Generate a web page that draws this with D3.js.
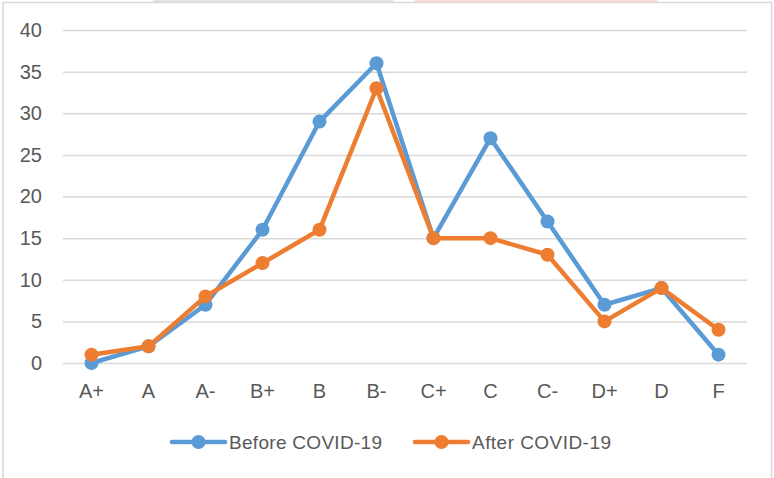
<!DOCTYPE html>
<html>
<head>
<meta charset="utf-8">
<script src="https://cdn.jsdelivr.net/npm/d3@7"></script>
<style>
  body { margin: 0; background: #fff; }
  svg { display: block; font-family: "Liberation Sans", Arial, sans-serif; }
</style>
</head>
<body>
<div id="chart"></div>
<script>
/* Data */
const GRADES = ['A+', 'A', 'A-', 'B+', 'B', 'B-', 'C+', 'C', 'C-', 'D+', 'D', 'F'];
const BEFORE = [0, 2, 7, 16, 29, 36, 15, 27, 17, 7, 9, 1];
const AFTER = [1, 2, 8, 12, 16, 33, 15, 15, 13, 5, 9, 4];
const Y_TICKS = [0, 5, 10, 15, 20, 25, 30, 35, 40];
const SERIES = [
    { name: 'Before COVID-19', values: BEFORE, color: '#5B9BD5' },
    { name: 'After COVID-19', values: AFTER, color: '#ED7D31' }
];

/* Dimensions */
const WIDTH = 774;
const HEIGHT = 478;
const PLOT = { left: 63, right: 747, top: 30, bottom: 363 };

const svg = d3.select('#chart').append('svg')
    .attr('width', WIDTH)
    .attr('height', HEIGHT);

// leftover header cells above the chart frame
svg.append('rect').attr('x', 153).attr('y', 0).attr('width', 240).attr('height', 3).attr('fill', '#e3e3e3');
svg.append('rect').attr('x', 415).attr('y', 0).attr('width', 242).attr('height', 3).attr('fill', '#fadada');

// chart frame
svg.append('rect')
    .attr('x', 3).attr('y', 2.5)
    .attr('width', 768.5).attr('height', 490)
    .attr('fill', '#fff')
    .attr('stroke', '#d9d9d9')
    .attr('stroke-width', 1.5);

const x = d3.scaleBand().domain(GRADES).range([PLOT.left, PLOT.right]);
const y = d3.scaleLinear().domain([0, 40]).range([PLOT.bottom, PLOT.top]);

// gridlines + y labels
const yAxis = svg.append('g')
    .attr('transform', `translate(${PLOT.left},0)`)
    .call(d3.axisLeft(y).tickValues(Y_TICKS).tickSize(-(PLOT.right - PLOT.left)).tickPadding(21));
yAxis.select('.domain').remove();
yAxis.selectAll('line').attr('stroke', '#d9d9d9').attr('stroke-width', 1.5);
yAxis.selectAll('text')
    .attr('fill', '#595959')
    .style('font-size', '20px');

// x labels
const xAxis = svg.append('g')
    .attr('transform', `translate(0,${PLOT.bottom})`)
    .call(d3.axisBottom(x).tickSize(0).tickPadding(21));
xAxis.select('.domain').remove();
xAxis.selectAll('text')
    .attr('fill', '#595959')
    .style('font-size', '20px');

const cx = (d, i) => x(GRADES[i]) + x.bandwidth() / 2;

const line = d3.line()
    .x(cx)
    .y((d) => y(d));

const groups = svg.selectAll('.series').data(SERIES).enter().append('g').classed('series', true);

groups.append('path')
    .attr('d', (s) => line(s.values))
    .attr('fill', 'none')
    .attr('stroke', (s) => s.color)
    .attr('stroke-width', 4.5)
    .attr('stroke-linejoin', 'round');

groups.each(function (s) {
    d3.select(this).selectAll('circle').data(s.values).enter().append('circle')
        .attr('cx', cx)
        .attr('cy', (d) => y(d))
        .attr('r', 7)
        .attr('fill', s.color);
});

// legend
const LEGEND_X = [172, 415];
const legend = svg.selectAll('.legend').data(SERIES).enter().append('g').classed('legend', true)
    .attr('transform', (s, i) => `translate(${LEGEND_X[i]},442)`);
legend.append('line')
    .attr('x1', 0).attr('x2', 53)
    .attr('stroke', (s) => s.color)
    .attr('stroke-width', 4.5)
    .attr('stroke-linecap', 'round');
legend.append('circle')
    .attr('cx', 26.5).attr('r', 7)
    .attr('fill', (s) => s.color);
legend.append('text')
    .attr('x', 57)
    .attr('dy', '0.35em')
    .attr('fill', '#595959')
    .style('font-size', '19px')
    .attr('textLength', (s, i) => i === 0 ? 153 : 139)
    .text((s) => s.name);
</script>
</body>
</html>
